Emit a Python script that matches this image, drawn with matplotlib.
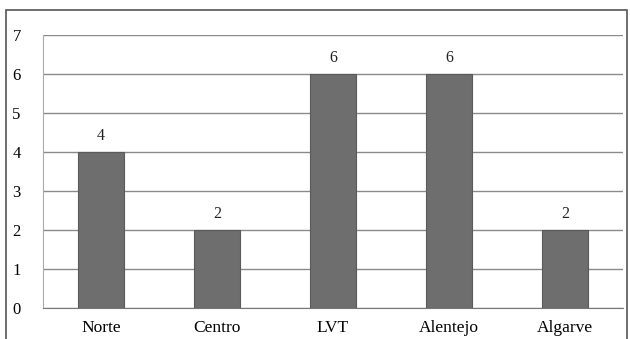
import matplotlib.pyplot as plt
from matplotlib.patches import Rectangle

# regions and counts
regions = ["Norte", "Centro", "LVT", "Alentejo", "Algarve"]
counts = [4, 2, 6, 6, 2]
yticks = [0, 1, 2, 3, 4, 5, 6, 7]

plt.rcParams['font.family'] = ['Liberation Serif', 'DejaVu Serif']

fig = plt.figure(figsize=(6.3, 3.39), dpi=100)
ax = fig.add_axes([43/630, 1 - 308/339, 580/630, (308 - 35)/339])

# outer frame around the whole chart
fig.patches.append(Rectangle((6/630, -0.02), 621/630, 1 - 10/339 + 0.02,
                             transform=fig.transFigure, fill=False,
                             edgecolor='#555555', linewidth=1.2))

x = range(len(regions))
bars = ax.bar(x, counts, width=0.4, color='#6e6e6e', edgecolor='#5a5a5a',
              linewidth=0.8, zorder=3)
for xi, v in zip(x, counts):
    ax.text(xi, v + 0.2, str(v), ha='center', va='bottom', fontsize=11.5,
            color='#222222')

ax.set_xlim(-0.5, len(regions) - 0.5)
ax.set_ylim(0, 7)
ax.set_yticks(yticks)
ax.set_xticks(list(x))
ax.set_xticklabels(regions, fontsize=12.5)
ax.tick_params(axis='y', labelsize=12, length=0, pad=16)
ax.tick_params(axis='x', length=0, pad=9)
ax.grid(axis='y', color='#8a8a8a', linewidth=1.0, zorder=0)
for s in ['top', 'right']:
    ax.spines[s].set_visible(False)
ax.spines['left'].set_color('#aaaaaa')
ax.spines['bottom'].set_color('#777777')

fig.savefig("out.png", dpi=100)
